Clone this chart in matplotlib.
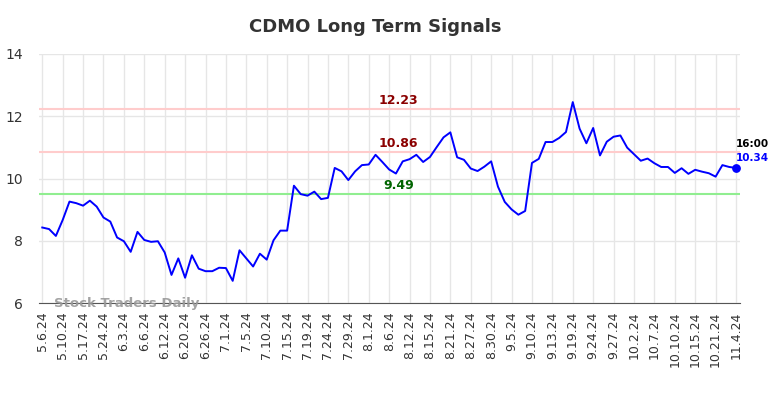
import matplotlib
matplotlib.use('Agg')
import matplotlib.pyplot as plt

# 数据：按图读取
prices = [
    8.43, 8.38, 8.16, 8.67, 9.26, 9.21, 9.13, 9.29, 9.10, 8.75,
    8.62, 8.11, 7.99, 7.65, 8.29, 8.03, 7.97, 7.99, 7.63, 6.91,
    7.44, 6.82, 7.54, 7.11, 7.03, 7.03, 7.14, 7.13, 6.72, 7.70,
    7.44, 7.18, 7.59, 7.40, 8.02, 8.33, 8.33, 9.77, 9.50, 9.45,
    9.58, 9.34, 9.38, 10.34, 10.23, 9.95, 10.23, 10.43, 10.45, 10.76,
    10.53, 10.29, 10.16, 10.55, 10.62, 10.76, 10.53, 10.69, 11.01, 11.32,
    11.48, 10.68, 10.60, 10.32, 10.24, 10.38, 10.55, 9.74, 9.25, 9.01,
    8.84, 8.96, 10.50, 10.63, 11.17, 11.17, 11.30, 11.49, 12.45, 11.60,
    11.13, 11.62, 10.74, 11.18, 11.34, 11.38, 10.99, 10.78, 10.57, 10.64,
    10.49, 10.37, 10.37, 10.18, 10.33, 10.15, 10.28, 10.22, 10.17, 10.06,
    10.43, 10.37, 10.34,
]
tick_labels = [
    '5.6.24', '5.10.24', '5.17.24', '5.24.24', '6.3.24', '6.6.24', '6.12.24',
    '6.20.24', '6.26.24', '7.1.24', '7.5.24', '7.10.24', '7.15.24', '7.19.24',
    '7.24.24', '7.29.24', '8.1.24', '8.6.24', '8.12.24', '8.15.24', '8.21.24',
    '8.27.24', '8.30.24', '9.5.24', '9.10.24', '9.13.24', '9.19.24', '9.24.24',
    '9.27.24', '10.2.24', '10.7.24', '10.10.24', '10.15.24', '10.21.24', '11.4.24',
]
upper_levels = [12.23, 10.86]
lower_level = 9.49
last_time = '16:00'

x = list(range(len(prices)))
tick_pos = list(range(0, len(prices), 3))

fig = plt.figure(figsize=(7.84, 3.98), dpi=100)
ax = fig.add_axes([0.0501, 0.2379, 0.8938, 0.6271])

ax.set_xlim(-0.44, len(prices) - 1 + 0.59)
ax.set_ylim(6, 14)
ax.set_yticks([6, 8, 10, 12, 14])
ax.set_xticks(tick_pos)
ax.set_xticklabels(tick_labels, rotation=90, fontsize=9, color='#333333')
ax.tick_params(axis='y', labelsize=10, labelcolor='#333333', length=0, pad=12)
ax.tick_params(axis='x', length=0, pad=6)
ax.grid(True, color='#e6e6e6', linewidth=1)
ax.set_axisbelow(True)
for s in ['left', 'right', 'top']:
    ax.spines[s].set_visible(False)
ax.spines['bottom'].set_color('#555555')

# 水平信号线
mid = (len(prices) - 1) / 2 + 1.4
for lv in upper_levels:
    ax.axhline(lv, color='#ffcccc', linewidth=1.5, zorder=1)
    ax.text(mid, lv + 0.07, f'{lv:.2f}', color='#8b0000', fontsize=9,
            fontweight='bold', ha='center', va='bottom')
ax.axhline(lower_level, color='#90ee90', linewidth=1.5, zorder=1)
ax.text(mid, lower_level + 0.07, f'{lower_level:.2f}', color='#006400', fontsize=9,
        fontweight='bold', ha='center', va='bottom')

ax.plot(x, prices, color='#0000ff', linewidth=1.4, zorder=3)
ax.scatter([x[-1]], [prices[-1]], color='#0000ff', s=28, zorder=4)

ax.text(x[-1], prices[-1] + 0.6, last_time, color='black', fontsize=7.5,
        fontweight='bold', ha='left', va='bottom')
ax.text(x[-1], prices[-1] + 0.15, f'{prices[-1]:.2f}', color='#0000ff', fontsize=7.5,
        fontweight='bold', ha='left', va='bottom')

ax.text(1.7, 6.0, 'Stock Traders Daily', color='#999999', fontsize=9.5,
        fontweight='bold', ha='left', va='center', alpha=0.9)

fig.text(375 / 784, 1 - 27 / 398, 'CDMO Long Term Signals', fontsize=13,
         fontweight='bold', color='#333333', ha='center', va='center')

plt.savefig('out.png', dpi=100)
plt.close(fig)
